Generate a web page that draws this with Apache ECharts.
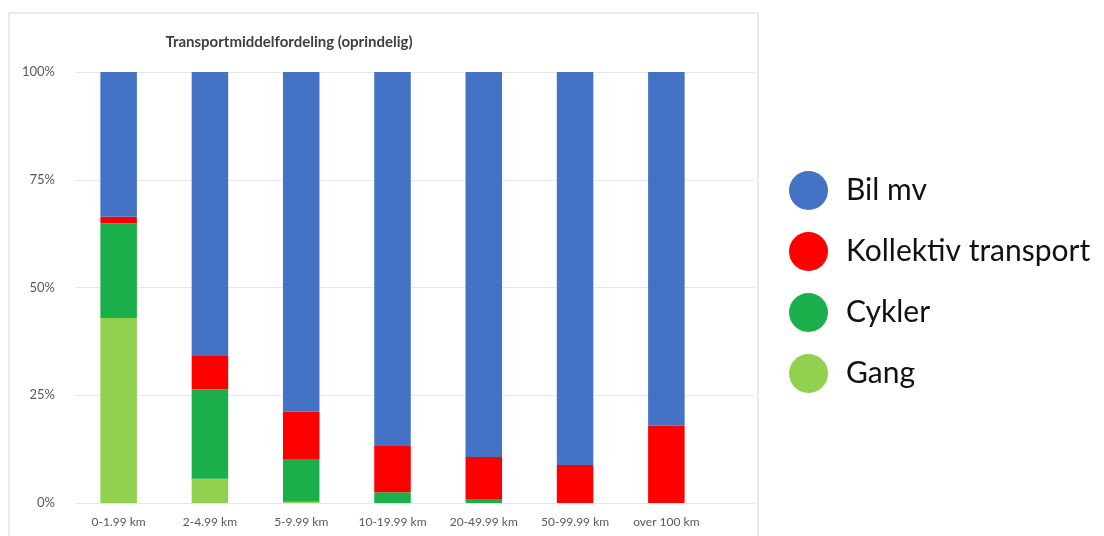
<!DOCTYPE html>
<html>
<head>
<meta charset="utf-8">
<script src="https://cdn.jsdelivr.net/npm/echarts@6/dist/echarts.min.js"></script>
<style>
  html, body { margin: 0; padding: 0; background: #fff; }
  #chart { width: 1104px; height: 536px; }
</style>
</head>
<body>
<div id="chart"></div>
<script>
// afstandsklasser og andele i procent
const categories = ['0-1.99 km', '2-4.99 km', '5-9.99 km', '10-19.99 km', '20-49.99 km', '50-99.99 km', 'over 100 km']
const gang = [42.9, 5.6, 0.3, 0, 0, 0, 0]
const cykler = [22.0, 20.8, 9.9, 2.5, 0.9, 0, 0]
const kollektiv = [1.5, 7.7, 11.0, 10.7, 9.8, 8.8, 17.9]
const bil = [33.6, 65.9, 78.8, 86.8, 89.3, 91.2, 82.1]
const yTicks = [0, 25, 50, 75, 100]

const chart = echarts.init(document.getElementById('chart'))

const font = 'Lato, "Open Sans", sans-serif'

function barSeries(name, data, color) {
  return {
    name: name,
    type: 'bar',
    stack: 'total',
    xAxisIndex: 0,
    yAxisIndex: 0,
    barWidth: '40%',
    data: data,
    itemStyle: { color: color },
    emphasis: { disabled: true },
  }
}

const option = {
  animation: false,
  textStyle: { fontFamily: font },
  title: {
    text: 'Transportmiddelfordeling (oprindelig)',
    left: 284,
    top: 30,
    textAlign: 'center',
    textStyle: { fontFamily: font, fontSize: 15, fontWeight: 'bold', color: '#404040' },
  },
  graphic: [
    {
      type: 'rect',
      silent: true,
      shape: { x: 9, y: 13, width: 749, height: 540 },
      style: { fill: 'none', stroke: '#e4e4e4', lineWidth: 1.5 },
    },
  ],
  legend: {
    orient: 'vertical',
    left: 784,
    top: 166,
    icon: 'circle',
    itemWidth: 39,
    itemHeight: 39,
    itemGap: 22,
    data: ['Bil mv', 'Kollektiv transport', 'Cykler', 'Gang'],
    textStyle: { fontFamily: font, fontSize: 30, color: '#111', padding: [0, 0, 0, 13] },
    selectedMode: false,
  },
  grid: [
    // søjlerne
    { left: 73, top: 72, width: 639, height: 431 },
    // gitterlinjer over hele plotområdet
    { left: 75, top: 72, width: 680, height: 431 },
  ],
  xAxis: [
    {
      type: 'category',
      gridIndex: 0,
      data: categories,
      axisLine: { show: false },
      axisTick: { show: false },
      axisLabel: { color: '#595959', fontSize: 12, margin: 13 },
    },
    {
      type: 'value',
      gridIndex: 1,
      show: false,
    },
  ],
  yAxis: [
    {
      type: 'value',
      gridIndex: 0,
      min: 0,
      max: 100,
      show: false,
    },
    {
      type: 'value',
      gridIndex: 1,
      min: yTicks[0],
      max: yTicks[yTicks.length - 1],
      interval: 25,
      axisLine: { show: false },
      axisTick: { show: false },
      axisLabel: { color: '#595959', fontSize: 13, margin: 20, formatter: '{value}%' },
      splitLine: { lineStyle: { color: '#e6e6e6', width: 1 } },
    },
  ],
  series: [
    barSeries('Gang', gang, '#92D050'),
    barSeries('Cykler', cykler, '#1AAF4B'),
    barSeries('Kollektiv transport', kollektiv, '#FF0000'),
    barSeries('Bil mv', bil, '#4472C4'),
  ],
}

chart.setOption(option)
</script>
</body>
</html>
